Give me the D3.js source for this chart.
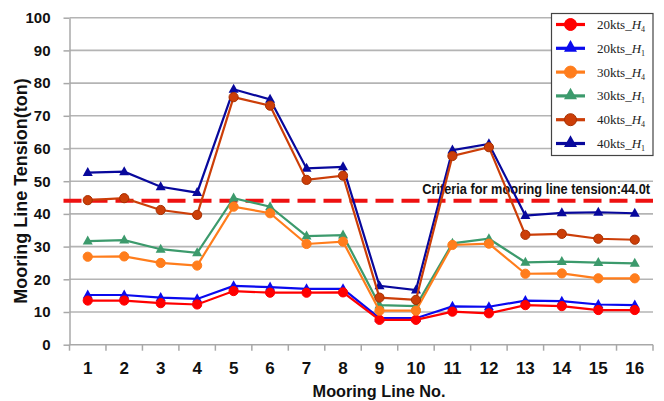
<!DOCTYPE html>
<html>
<head>
<meta charset="utf-8">
<script src="https://cdn.jsdelivr.net/npm/d3@7"></script>
<style>
body { margin: 0; background: #fff; }
.lbl { font-family: "Liberation Sans Narrow", "Arial Narrow", "Liberation Sans", sans-serif; font-weight: bold; fill: #111; }
.leg { font-family: "Liberation Serif", "DejaVu Serif", serif; font-size: 13px; fill: #222; }
</style>
</head>
<body>
<svg id="myGraph"></svg>
<script>
// データ
var lineNo = [1, 2, 3, 4, 5, 6, 7, 8, 9, 10, 11, 12, 13, 14, 15, 16];
var yTicks = [0, 10, 20, 30, 40, 50, 60, 70, 80, 90, 100];
var kts20H4 = [13.5, 13.5, 12.7, 12.3, 16.4, 15.9, 15.9, 16.0, 7.6, 7.6, 10.1, 9.6, 12.1, 11.8, 10.6, 10.6];
var kts20H1 = [15.2, 15.2, 14.4, 14.0, 18.0, 17.6, 17.1, 17.1, 8.1, 8.1, 11.7, 11.6, 13.5, 13.3, 12.3, 12.1];
var kts30H4 = [26.9, 27.0, 25.0, 24.2, 42.2, 40.2, 30.8, 31.5, 10.4, 10.4, 30.5, 30.9, 21.7, 21.8, 20.3, 20.3];
var kts30H1 = [31.7, 32.0, 29.2, 28.1, 44.8, 42.2, 33.2, 33.5, 12.1, 11.8, 31.0, 32.4, 25.2, 25.4, 25.1, 24.9];
var kts40H4 = [44.2, 44.8, 41.2, 39.7, 75.7, 73.1, 50.4, 51.7, 14.4, 13.7, 57.7, 60.4, 33.6, 33.9, 32.4, 32.1];
var kts40H1 = [52.6, 52.9, 48.3, 46.5, 78.1, 75.0, 53.9, 54.4, 18.0, 16.7, 59.5, 61.4, 39.5, 40.3, 40.5, 40.2];
var criteria = 44.0;

// 系列の設定
var series = [
    { speed: "20kts_", sub: "4", values: kts20H4, color: "#ff0000", stroke: "#ff0000", shape: "circle" },
    { speed: "20kts_", sub: "1", values: kts20H1, color: "#0a0aee", stroke: "#0a0aee", shape: "triangle" },
    { speed: "30kts_", sub: "4", values: kts30H4, color: "#ff7d1c", stroke: "#ff7d1c", shape: "circle" },
    { speed: "30kts_", sub: "1", values: kts30H1, color: "#3c9a6c", stroke: "#3c9a6c", shape: "triangle" },
    { speed: "40kts_", sub: "4", values: kts40H4, color: "#cc3e08", stroke: "#a83000", shape: "circle" },
    { speed: "40kts_", sub: "1", values: kts40H1, color: "#08089c", stroke: "#08089c", shape: "triangle" }
];

// SVGの描画領域を設定
var W = 664, H = 401;
var margin = {top: 17.7, right: 11, bottom: 56.3, left: 69.5},
    width = W - margin.left - margin.right,
    height = H - margin.top - margin.bottom;

var svg = d3.select("#myGraph")
    .attr("width", W)
    .attr("height", H);

var g = svg.append("g")
    .attr("transform", "translate(" + margin.left + "," + margin.top + ")");

// スケール
var x = d3.scaleBand()
    .domain(lineNo)
    .range([0, width]);

var y = d3.scaleLinear()
    .domain([0, 100])
    .range([height, 0]);

var cx = function(d, i) { return x(lineNo[i]) + x.bandwidth() / 2; };

// 横方向に詰めた文字 (細い書体の代わり)
var narrowText = function(parent, str, px, py, size, target, anchor, rot) {
    var wrap = parent.append("g");
    var t = wrap.append("text")
        .attr("class", "lbl")
        .attr("text-anchor", anchor)
        .style("font-size", size + "px")
        .text(str);
    var sx = Math.min(1, target / t.node().getComputedTextLength());
    wrap.attr("transform", "translate(" + px + "," + py + ")" + (rot ? " rotate(-90)" : "") + " scale(" + sx + ",1)");
    return wrap;
};

// グリッド線
g.selectAll("line.grid")
    .data(yTicks.filter(function(d) { return d > 0; }))
    .enter()
    .append("line")
    .attr("class", "grid")
    .attr("x1", 0)
    .attr("x2", width)
    .attr("y1", function(d) { return y(d); })
    .attr("y2", function(d) { return y(d); })
    .attr("stroke", "#b4b4b4")
    .attr("stroke-width", 1.6);

// Y軸
var yAxis = g.append("g")
    .call(d3.axisLeft(y).tickValues(yTicks).tickSize(6).tickPadding(13).tickSizeOuter(0));
yAxis.select(".domain").attr("stroke", "#a8a8a8").attr("stroke-width", 1.5);
yAxis.selectAll(".tick line").attr("stroke", "#a8a8a8").attr("stroke-width", 1.5);
yAxis.selectAll(".tick text")
    .attr("class", "lbl")
    .style("font-size", "15px");

// X軸
var xAxis = g.append("g")
    .attr("transform", "translate(0," + height + ")");
xAxis.append("line")
    .attr("x1", 0).attr("x2", width)
    .attr("stroke", "#a8a8a8").attr("stroke-width", 1.5);
xAxis.selectAll("line.tk")
    .data(lineNo.concat([17]))
    .enter()
    .append("line")
    .attr("class", "tk")
    .attr("x1", function(d) { return d <= 16 ? x(d) : width; })
    .attr("x2", function(d) { return d <= 16 ? x(d) : width; })
    .attr("y1", 0).attr("y2", 6)
    .attr("stroke", "#a8a8a8").attr("stroke-width", 1.5);
xAxis.selectAll("text")
    .data(lineNo)
    .enter()
    .append("text")
    .attr("class", "lbl")
    .attr("x", function(d) { return x(d) + x.bandwidth() / 2; })
    .attr("y", 29.5)
    .attr("text-anchor", "middle")
    .style("font-size", "17px")
    .text(function(d) { return d; });

// 軸タイトル
narrowText(svg, "Mooring Line No.", 379, 396.5, 17, 133, "middle", false);
narrowText(svg, "Mooring Line Tension(ton)", 27, 191, 18, 232, "middle", true);

// 基準線
g.append("line")
    .attr("x1", -6)
    .attr("x2", width)
    .attr("y1", y(criteria))
    .attr("y2", y(criteria))
    .attr("stroke", "#ee1111")
    .attr("stroke-width", 4)
    .attr("stroke-dasharray", "18,8");

narrowText(g, "Criteria for mooring line tension:" + criteria.toFixed(1) + "t",
    650 - margin.left, 194 - margin.top, 15, 228, "end", false);

// 折れ線とマーカー
var fncLine = d3.line()
    .x(cx)
    .y(function(d) { return y(d); });

var triPath = function(s) {
    var h = s * 0.9;
    return "M0," + (-h * 0.62) + "L" + (s / 2) + "," + (h * 0.38) + "L" + (-s / 2) + "," + (h * 0.38) + "Z";
};

var order = [1, 0, 3, 2, 5, 4];
order.forEach(function(k) {
    var s = series[k];
    var sg = g.append("g");
    sg.append("path")
        .attr("d", fncLine(s.values))
        .attr("fill", "none")
        .attr("stroke", s.color)
        .attr("stroke-width", 2.2);
    if (s.shape === "circle") {
        sg.selectAll("circle")
            .data(s.values)
            .enter()
            .append("circle")
            .attr("cx", cx)
            .attr("cy", function(d) { return y(d); })
            .attr("r", 4.6)
            .attr("fill", s.color)
            .attr("stroke", s.stroke)
            .attr("stroke-width", 1);
    } else {
        sg.selectAll("path.tri")
            .data(s.values)
            .enter()
            .append("path")
            .attr("class", "tri")
            .attr("transform", function(d, i) { return "translate(" + cx(d, i) + "," + y(d) + ")"; })
            .attr("d", triPath(10))
            .attr("fill", s.color);
    }
});

// 凡例
var legend = svg.append("g")
    .attr("transform", "translate(551,13)");

legend.append("rect")
    .attr("x", 0.5).attr("y", 0.5)
    .attr("width", 101.5).attr("height", 142)
    .attr("fill", "#fff")
    .attr("stroke", "#444")
    .attr("stroke-width", 1.2);

var item = legend.selectAll("g.item")
    .data(series)
    .enter()
    .append("g")
    .attr("class", "item")
    .attr("transform", function(d, i) { return "translate(0," + (11.5 + i * 23.8) + ")"; });

item.append("line")
    .attr("x1", 5).attr("x2", 34)
    .attr("stroke", function(d) { return d.color; })
    .attr("stroke-width", 3.2);

item.each(function(d) {
    var it = d3.select(this);
    if (d.shape === "circle") {
        it.append("circle")
            .attr("cx", 19.5)
            .attr("r", 6)
            .attr("fill", d.color)
            .attr("stroke", d.stroke);
    } else {
        it.append("path")
            .attr("transform", "translate(19.5,-1)")
            .attr("d", triPath(13))
            .attr("fill", d.color);
    }
});

var lt = item.append("text")
    .attr("class", "leg")
    .attr("x", 46)
    .attr("y", 4.5);
lt.append("tspan").text(function(d) { return d.speed; });
lt.append("tspan")
    .style("font-style", "italic")
    .text("H");
lt.append("tspan")
    .attr("dy", 3)
    .style("font-size", "8px")
    .text(function(d) { return d.sub; });
</script>
</body>
</html>
